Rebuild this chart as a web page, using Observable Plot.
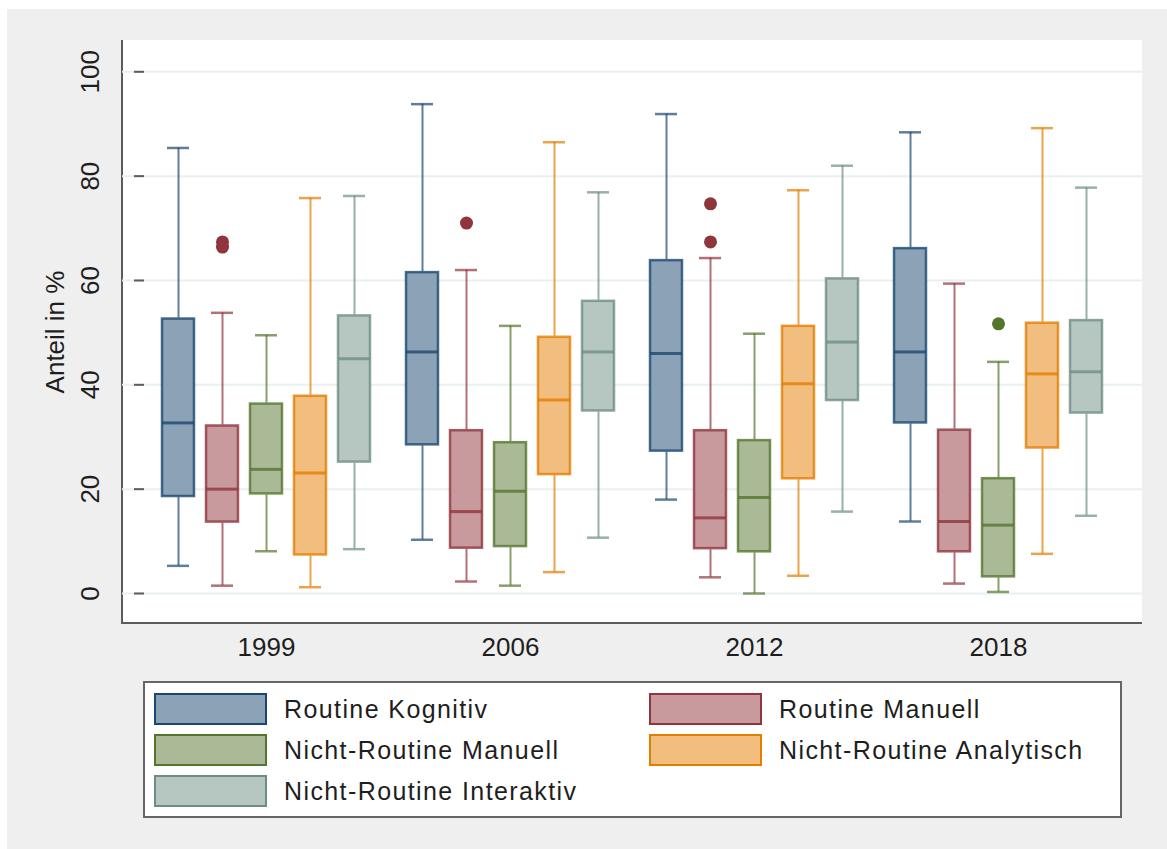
<!DOCTYPE html>
<html>
<head>
<meta charset="utf-8">
<script src="https://cdn.jsdelivr.net/npm/d3@7"></script>
<script src="https://cdn.jsdelivr.net/npm/@observablehq/plot@0.6"></script>
<style>
  html, body { margin: 0; padding: 0; background: #ffffff; }
  body { font-family: "Liberation Sans", Arial, sans-serif; color: #1e1e1e; }
  #panel { position: absolute; left: 7px; top: 9px; width: 1160px; height: 840px; background: #efefef; }
  #plotbg { position: absolute; left: 114px; top: 31px; width: 1019px; height: 582px; background: #ffffff;
            border-left: 2px solid #5c5c5c; border-bottom: 2px solid #5c5c5c; }
  #grid, #chart { position: absolute; left: 0; top: 0; }
  #legend { position: absolute; left: 136px; top: 672px; width: 979px; height: 137px; box-sizing: border-box;
            border: 2px solid #666666; background: #ffffff; }
  .item { position: absolute; display: flex; align-items: center; height: 32px; }
  .sw { width: 109px; height: 28px; border: 2px solid; margin-right: 17px; }
  .lab { font-size: 25px; letter-spacing: 1.4px; white-space: nowrap; }
</style>
</head>
<body>
<div id="panel">
  <div id="plotbg"></div>
  <div id="grid"></div>
  <div id="chart"></div>
  <div id="legend"></div>
</div>
<script>
// ---- data ----
const years = ["1999", "2006", "2012", "2018"];
const categories = ["Routine Kognitiv", "Routine Manuell", "Nicht-Routine Manuell", "Nicht-Routine Analytisch", "Nicht-Routine Interaktiv"];
const yTicks = [0, 20, 40, 60, 80, 100];

// rows = years, columns = categories
const whiskerLow = [
  [5.3, 1.5, 8.1, 1.2, 8.5],
  [10.3, 2.3, 1.5, 4.1, 10.7],
  [18.0, 3.1, 0.0, 3.4, 15.7],
  [13.8, 1.9, 0.3, 7.6, 14.9]
];
const quartile1 = [
  [18.4, 13.5, 18.9, 7.2, 25.0],
  [28.3, 8.5, 8.8, 22.6, 34.8],
  [27.1, 8.4, 7.8, 21.8, 36.8],
  [32.5, 7.8, 3.0, 27.7, 34.4]
];
const medians = [
  [32.7, 20.0, 23.8, 23.1, 45.0],
  [46.3, 15.7, 19.6, 37.1, 46.3],
  [46.0, 14.5, 18.4, 40.2, 48.2],
  [46.3, 13.8, 13.1, 42.1, 42.5]
];
const quartile3 = [
  [52.8, 32.3, 36.5, 38.0, 53.4],
  [61.7, 31.4, 29.1, 49.3, 56.2],
  [64.0, 31.4, 29.5, 51.4, 60.5],
  [66.3, 31.5, 22.2, 52.0, 52.5]
];
const whiskerHigh = [
  [85.4, 53.8, 49.5, 75.8, 76.2],
  [93.8, 62.0, 51.3, 86.5, 76.9],
  [91.9, 64.3, 49.8, 77.3, 82.0],
  [88.4, 59.4, 44.4, 89.2, 77.8]
];
const outlierYears = ["1999", "1999", "2006", "2012", "2012", "2018"];
const outlierCategories = ["Routine Manuell", "Routine Manuell", "Routine Manuell", "Routine Manuell", "Routine Manuell", "Nicht-Routine Manuell"];
const outlierValues = [67.4, 66.4, 71.0, 74.7, 67.4, 51.7];

// ---- styles ----
const lineColors = ["#1a476f", "#90353b", "#55752f", "#e37e00", "#6e8e84"];
const fillColors = ["#8ca3b7", "#c89a9d", "#aaba97", "#f1be7f", "#b6c6c1"];
const strokeOf = c => lineColors[categories.indexOf(c)];
const fillOf = c => fillColors[categories.indexOf(c)];

const boxes = years.flatMap((year, i) => categories.map((category, j) => ({
  year, category,
  lo: whiskerLow[i][j], q1: quartile1[i][j], med: medians[i][j], q3: quartile3[i][j], hi: whiskerHigh[i][j]
})));
const outliers = outlierValues.map((v, k) => ({year: outlierYears[k], category: outlierCategories[k], value: v}));

const frameOpts = {
  width: 1160,
  height: 660,
  marginLeft: 115,
  marginRight: 25,
  marginTop: 31,
  marginBottom: 46,
  style: {fontFamily: "'Liberation Sans', Arial, sans-serif", fontSize: "26px", color: "#1e1e1e", background: "transparent", overflow: "visible"}
};
const yScale = {domain: [-5.75, 106], label: null};

// background grid spanning the full plot width
const grid = Plot.plot({
  ...frameOpts,
  y: yScale,
  axis: null,
  marks: [Plot.ruleY(yTicks, {stroke: "#e8f0f0", strokeWidth: 2})]
});
document.getElementById("grid").appendChild(grid);

const common = {fx: "year", x: "category"};
const chart = Plot.plot({
  ...frameOpts,
  fx: {domain: years, paddingInner: 0, paddingOuter: 0.0875, label: null},
  x: {domain: categories, paddingInner: 0.236, paddingOuter: 0.363, axis: null},
  y: yScale,
  marks: [
    Plot.axisY({ticks: yTicks, tickSize: 10, tickRotate: -90, tickPadding: 36, stroke: "#5c5c5c", strokeWidth: 2, strokeOpacity: 1,
                fontSize: 26, label: "Anteil in %", labelAnchor: "center", labelArrow: "none", labelOffset: 99}),
    Plot.axisFx({anchor: "bottom", tickSize: 0, tickPadding: 14, fontSize: 26, label: null}),
    Plot.ruleX(boxes, {...common, y1: "lo", y2: "q1", stroke: d => strokeOf(d.category), strokeWidth: 2, strokeOpacity: 0.7}),
    Plot.ruleX(boxes, {...common, y1: "q3", y2: "hi", stroke: d => strokeOf(d.category), strokeWidth: 2, strokeOpacity: 0.7}),
    Plot.tickY(boxes, {...common, y: "lo", stroke: d => strokeOf(d.category), strokeWidth: 2.5, strokeOpacity: 0.7, insetLeft: 6, insetRight: 6}),
    Plot.tickY(boxes, {...common, y: "hi", stroke: d => strokeOf(d.category), strokeWidth: 2.5, strokeOpacity: 0.7, insetLeft: 6, insetRight: 6}),
    Plot.barY(boxes, {...common, y1: "q1", y2: "q3", fill: d => fillOf(d.category), stroke: d => strokeOf(d.category), strokeWidth: 2.5, strokeOpacity: 0.8, inset: 1}),
    Plot.tickY(boxes, {...common, y: "med", stroke: d => strokeOf(d.category), strokeWidth: 3, strokeOpacity: 0.8, insetLeft: 1, insetRight: 1}),
    Plot.dot(outliers, {...common, y: "value", r: 6.5, fill: d => strokeOf(d.category), stroke: "none"})
  ]
});
document.getElementById("chart").appendChild(chart);

// ---- legend ----
const legend = document.getElementById("legend");
categories.forEach((c, i) => {
  const col = i % 2, row = Math.floor(i / 2);
  const item = document.createElement("div");
  item.className = "item";
  item.style.left = (9 + col * 495) + "px";
  item.style.top = (10 + row * 41) + "px";
  const sw = document.createElement("div");
  sw.className = "sw";
  sw.style.background = fillColors[i];
  sw.style.borderColor = lineColors[i];
  const lab = document.createElement("span");
  lab.className = "lab";
  lab.textContent = c;
  item.appendChild(sw);
  item.appendChild(lab);
  legend.appendChild(item);
});
</script>
</body>
</html>
